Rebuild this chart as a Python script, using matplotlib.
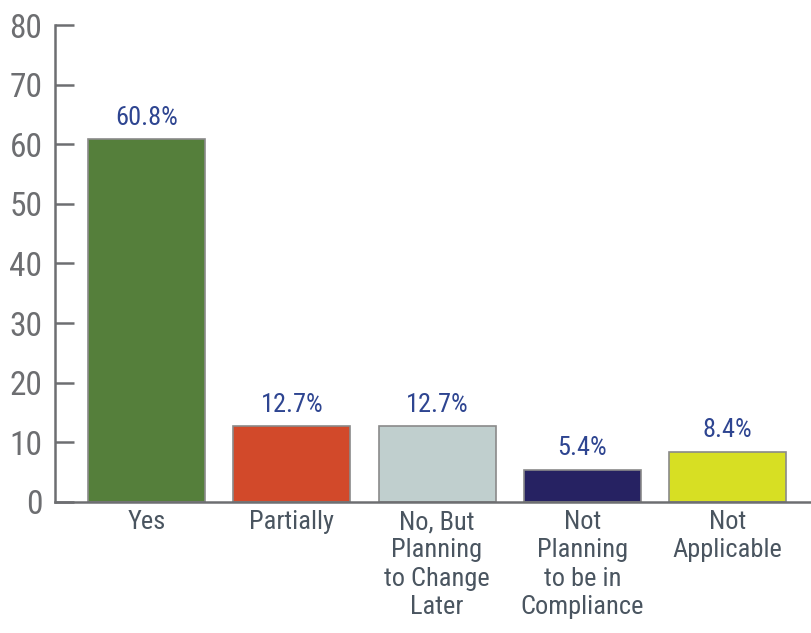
import numpy as np
import matplotlib.pyplot as plt

# Survey response categories and their shares (%)
categories = ['Yes', 'Partially', 'No, But\nPlanning\nto Change\nLater',
              'Not\nPlanning\nto be in\nCompliance', 'Not\nApplicable']
values = [60.8, 12.7, 12.7, 5.4, 8.4]
value_labels = ['60.8%', '12.7%', '12.7%', '5.4%', '8.4%']
bar_colors = ['#557f3b', '#d2492a', '#c0cfce', '#262262', '#d7df23']
y_ticks = [0, 10, 20, 30, 40, 50, 60, 70, 80]

font = ['Roboto Condensed', 'Liberation Sans Narrow', 'Roboto', 'DejaVu Sans']
axis_gray = '#6d6e71'

fig = plt.figure(figsize=(8.11, 6.33), dpi=100)
ax = fig.add_axes([0.0678, 0.207, 1 - 0.0678, 0.9605 - 0.207])

x = np.arange(len(categories))
bars = ax.bar(x, values, width=0.805, color=bar_colors,
              edgecolor='#8a8a8a', linewidth=1.2, zorder=2)

# value labels above each bar
for rect, lab in zip(bars, value_labels):
    ax.annotate(lab, (rect.get_x() + rect.get_width() / 2, rect.get_height()),
                xytext=(0, 7), textcoords='offset points',
                ha='center', va='bottom', fontsize=19,
                color='#2e4591', family=font)

ax.set_xlim(-0.631, 4.575)
ax.set_ylim(0, 80)
ax.set_yticks(y_ticks)
ax.set_yticklabels([str(t) for t in y_ticks], family=font,
                   fontsize=24, color=axis_gray)
ax.set_xticks(x)
ax.set_xticklabels(categories, family=font, fontsize=19,
                   color='#4a5560', linespacing=1.22)

ax.tick_params(axis='y', direction='in', length=14, width=1.8,
               color=axis_gray, pad=9)
ax.tick_params(axis='x', length=0, pad=6)

for side in ['top', 'right']:
    ax.spines[side].set_visible(False)
for side in ['left', 'bottom']:
    ax.spines[side].set_color(axis_gray)
    ax.spines[side].set_linewidth(1.8)

plt.savefig('out.png', dpi=100)
